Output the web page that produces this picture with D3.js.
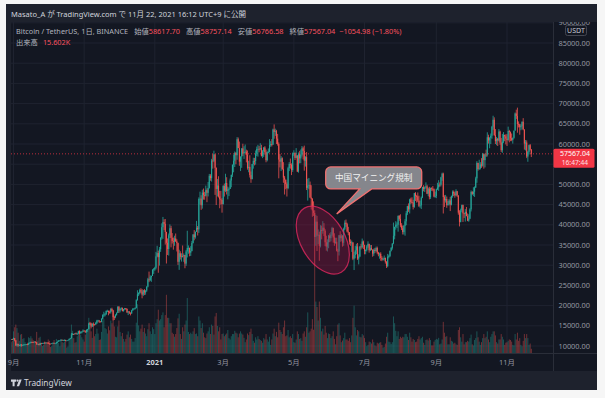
<!DOCTYPE html>
<html>
<head>
<meta charset="utf-8">
<script src="https://cdn.jsdelivr.net/npm/d3@7"></script>
<style>
  body { margin: 0; background: #f6f6f6; }
  svg { display: block; font-family: "Noto Sans", "Noto Sans CJK JP", sans-serif; }
</style>
</head>
<body>
<svg width="605" height="398"></svg>
<script>
// ---- data (BTCUSDT daily, prices in thousands USDT) ----
const startDate = new Date(2020, 7, 30);
const firstOpen = 11.5;

const closes = [
  11.70, 11.65,
  // 2020-09
  11.92, 11.39, 10.17, 10.46, 10.16, 10.26, 10.37, 10.13, 10.22, 10.34, 10.39, 10.44, 10.33, 10.68, 10.79,
  10.95, 10.94, 10.93, 11.08, 10.92, 10.42, 10.53, 10.24, 10.74, 10.69, 10.73, 10.77, 10.70, 10.84, 10.78,
  // 2020-10
  10.62, 10.57, 10.55, 10.67, 10.79, 10.60, 10.67, 10.92, 11.05, 11.30, 11.37, 11.54, 11.43, 11.43, 11.50,
  11.32, 11.37, 11.50, 11.75, 11.91, 12.82, 12.99, 12.93, 13.12, 13.03, 13.07, 13.65, 13.28, 13.46, 13.56, 13.80,
  // 2020-11
  13.76, 13.55, 14.03, 14.15, 15.59, 15.58, 14.83, 15.48, 15.33, 15.30, 15.70, 16.29, 16.33, 16.07, 15.96,
  16.72, 17.66, 17.80, 17.82, 18.68, 18.71, 18.42, 18.38, 19.16, 18.72, 17.15, 17.14, 17.72, 18.18, 19.70,
  // 2020-12
  18.77, 19.22, 19.42, 18.65, 19.15, 19.36, 19.17, 18.32, 18.55, 18.25, 18.03, 18.80, 19.17, 19.27, 19.44,
  21.35, 22.80, 23.11, 23.82, 23.47, 22.72, 23.81, 23.24, 23.73, 24.69, 26.49, 26.28, 27.03, 27.36, 28.88, 28.98,
  // 2021-01
  29.37, 32.19, 33.00, 31.99, 33.95, 36.77, 39.41, 40.67, 40.24, 38.24, 35.54, 34.01, 37.39, 39.15, 36.77,
  36.01, 35.80, 36.63, 35.89, 35.47, 30.85, 32.95, 32.08, 32.26, 32.25, 32.51, 30.40, 33.40, 34.27, 34.29, 33.11,
  // 2021-02
  33.52, 35.51, 37.62, 36.93, 38.29, 39.26, 38.87, 46.40, 46.48, 44.84, 47.97, 47.40, 47.19, 48.58,
  47.92, 49.13, 52.12, 51.55, 55.90, 55.84, 57.41, 54.10, 48.88, 49.71, 47.02, 46.30, 46.15, 45.14,
  // 2021-03
  49.59, 48.44, 50.35, 48.37, 48.75, 48.88, 50.97, 52.38, 54.88, 55.86, 57.80, 57.22, 61.18, 59.00, 55.63,
  56.90, 58.91, 57.65, 58.03, 58.10, 57.35, 54.08, 54.34, 52.30, 51.30, 55.03, 55.82, 55.78, 57.62, 58.78, 58.80,
  // 2021-04
  58.73, 58.97, 57.06, 58.20, 59.13, 57.99, 56.00, 57.99, 58.10, 59.77, 59.98, 59.84, 63.58, 62.96, 63.16,
  61.33, 60.01, 56.15, 55.63, 56.47, 53.80, 51.70, 51.19, 50.09, 49.07, 54.02, 55.03, 54.82, 53.56, 57.70,
  // 2021-05
  57.80, 56.58, 57.17, 53.20, 57.47, 56.43, 57.38, 58.93, 58.28, 55.86, 56.75, 49.15, 49.72, 49.88, 46.77,
  46.43, 43.54, 42.91, 37.00, 40.78, 37.30, 37.54, 34.77, 38.70, 38.48, 39.28, 38.53, 35.68, 34.62, 35.68, 37.34,
  // 2021-06
  36.69, 37.57, 39.19, 36.85, 35.52, 35.80, 33.58, 33.40, 37.39, 36.68, 37.33, 35.55, 39.02, 40.52, 40.16,
  38.34, 38.09, 35.82, 35.49, 35.60, 31.61, 32.51, 33.67, 34.65, 31.64, 32.16, 34.64, 34.45, 35.87, 35.04,
  // 2021-07
  33.52, 33.80, 34.66, 35.29, 33.69, 34.22, 33.86, 32.87, 33.81, 33.51, 34.26, 33.09, 32.73, 32.82, 31.78,
  31.40, 31.53, 31.78, 30.84, 29.79, 32.11, 32.29, 33.58, 34.28, 35.40, 37.27, 39.46, 40.02, 40.02, 42.21, 41.46,
  // 2021-08
  39.85, 39.15, 38.19, 39.74, 40.87, 42.84, 44.61, 43.82, 46.29, 45.59, 45.55, 44.43, 47.83, 47.10, 47.05,
  45.99, 44.70, 44.80, 46.72, 49.34, 48.87, 49.29, 49.51, 47.70, 48.96, 46.85, 49.07, 48.90, 48.81, 46.99, 47.13,
  // 2021-09
  48.83, 49.25, 49.94, 49.92, 51.76, 52.66, 46.86, 46.05, 46.40, 44.85, 45.17, 46.03, 44.96, 47.11, 48.14,
  47.76, 47.29, 48.30, 47.26, 43.01, 40.71, 43.57, 44.88, 42.84, 42.70, 43.21, 42.17, 41.03, 41.52, 43.82,
  // 2021-10
  48.14, 47.63, 48.20, 49.23, 51.49, 55.34, 53.80, 53.97, 54.95, 54.66, 57.49, 56.01, 57.37, 57.36, 61.67,
  60.88, 61.53, 62.04, 64.28, 66.00, 62.21, 60.69, 61.29, 60.86, 63.08, 60.33, 58.46, 60.59, 62.25, 61.88, 61.32,
  // 2021-11
  61.00, 63.22, 62.93, 61.44, 61.01, 61.53, 63.31, 67.55, 66.94, 64.95, 64.83, 64.16, 64.40, 65.50, 63.62,
  60.11, 60.37, 56.89, 58.06, 59.71, 58.62, 57.57
];

const highs = [
  11.70, 11.80,
  12.08, 11.95, 11.47, 10.63, 10.57, 10.35, 10.41, 10.43, 10.35, 10.50, 10.40, 10.48, 10.58, 10.80, 10.93,
  11.10, 11.05, 11.04, 11.18, 11.06, 10.99, 10.57, 10.55, 10.79, 10.77, 10.79, 10.80, 10.96, 10.86, 10.85,
  10.95, 10.66, 10.60, 10.70, 10.80, 10.80, 10.68, 10.96, 11.10, 11.49, 11.43, 11.72, 11.56, 11.55, 11.62,
  11.54, 11.40, 11.50, 11.82, 12.03, 13.22, 13.20, 13.03, 13.17, 13.35, 13.24, 13.79, 13.86, 13.64, 13.67, 14.10,
  13.90, 13.83, 14.07, 14.26, 15.75, 15.97, 15.77, 15.65, 15.83, 15.48, 15.97, 16.48, 16.48, 16.34, 16.14,
  16.88, 17.86, 18.48, 18.18, 18.80, 18.97, 18.75, 18.77, 19.42, 19.48, 18.92, 17.46, 17.88, 18.35, 19.86,
  19.89, 19.31, 19.60, 19.52, 19.18, 19.42, 19.41, 19.29, 18.64, 18.56, 18.29, 18.95, 19.41, 19.35, 19.57,
  21.56, 23.80, 23.29, 24.17, 24.30, 24.10, 23.84, 24.10, 23.80, 24.80, 26.87, 28.42, 27.50, 27.40, 28.99, 29.30,
  29.60, 33.30, 34.80, 33.60, 34.50, 36.94, 40.37, 41.95, 41.36, 41.43, 38.26, 36.63, 37.85, 40.10, 39.75,
  37.95, 36.85, 37.30, 37.85, 36.42, 35.60, 33.83, 33.46, 32.94, 34.88, 32.92, 32.56, 33.78, 38.53, 34.90, 34.33,
  34.72, 35.98, 37.66, 38.70, 38.32, 40.96, 39.70, 46.79, 48.20, 47.31, 48.68, 48.98, 48.15, 49.70,
  49.00, 50.60, 52.60, 52.53, 56.33, 57.50, 58.35, 57.50, 54.20, 51.35, 52.02, 48.40, 48.40, 46.60,
  49.80, 50.20, 52.64, 51.77, 49.45, 49.20, 51.45, 52.40, 54.90, 57.39, 58.15, 58.00, 61.70, 61.60, 60.60,
  56.90, 58.97, 60.07, 59.45, 59.88, 58.60, 58.40, 55.85, 57.20, 53.20, 55.07, 56.60, 56.57, 58.40, 59.37, 59.80,
  59.50, 60.20, 59.80, 58.50, 59.25, 59.47, 58.63, 58.20, 58.90, 61.20, 60.70, 61.20, 63.80, 64.85, 63.80,
  63.50, 62.50, 60.40, 57.50, 57.00, 56.70, 55.50, 52.10, 51.16, 50.50, 54.36, 55.50, 56.40, 55.20, 57.90,
  58.45, 57.90, 58.98, 57.20, 57.90, 58.30, 58.65, 59.50, 59.30, 59.60, 57.00, 58.00, 51.40, 51.60, 50.70,
  49.80, 46.60, 45.80, 43.60, 42.45, 42.20, 38.85, 38.30, 39.90, 39.80, 40.90, 40.40, 38.90, 37.30, 36.40, 37.50,
  37.90, 38.20, 39.50, 39.30, 37.90, 36.80, 36.80, 34.07, 37.50, 38.40, 37.70, 37.40, 39.30, 41.10, 41.30,
  40.50, 39.50, 38.20, 36.40, 36.10, 35.75, 33.30, 34.80, 35.30, 35.50, 32.70, 34.70, 35.30, 36.60, 36.10,
  35.04, 33.90, 35.00, 35.90, 35.30, 35.00, 35.00, 33.90, 34.10, 34.30, 34.60, 34.60, 33.30, 33.10, 33.20,
  32.25, 31.90, 32.40, 31.90, 31.00, 32.80, 32.60, 33.60, 34.50, 35.40, 40.55, 39.55, 40.90, 40.60, 42.30, 42.40,
  42.60, 40.40, 39.80, 39.95, 41.40, 43.40, 44.70, 45.30, 46.45, 46.70, 46.80, 46.20, 47.90, 48.10, 47.40,
  48.00, 47.20, 46.00, 47.00, 49.40, 49.80, 49.50, 50.50, 49.90, 49.20, 49.40, 49.20, 49.30, 49.60, 49.00, 48.20,
  48.95, 50.40, 51.05, 50.50, 51.90, 52.90, 52.90, 47.30, 47.40, 47.00, 45.90, 46.40, 46.90, 47.25, 48.50,
  48.50, 48.20, 48.80, 48.40, 47.30, 43.60, 44.00, 45.00, 45.00, 42.96, 43.90, 44.40, 42.80, 42.60, 44.10,
  48.50, 48.35, 49.30, 49.50, 51.90, 55.75, 55.30, 56.10, 55.50, 56.50, 57.80, 57.70, 57.60, 58.60, 62.90,
  62.30, 61.70, 62.60, 64.50, 67.00, 66.60, 63.70, 61.75, 61.50, 63.70, 63.30, 61.50, 62.50, 62.95, 62.30, 62.40,
  62.45, 64.30, 63.50, 63.10, 62.60, 61.60, 63.30, 67.80, 68.50, 69.00, 65.60, 65.00, 64.90, 65.60, 66.40,
  63.60, 61.00, 60.90, 58.30, 59.85, 60.00, 58.76
];

const lows = [
  11.50, 11.50,
  11.65, 11.16, 10.00, 9.88, 9.82, 9.99, 9.88, 9.85, 10.00, 10.20, 10.20, 10.30, 10.20, 10.25, 10.65,
  10.67, 10.75, 10.82, 10.90, 10.80, 10.30, 10.36, 10.14, 10.19, 10.56, 10.64, 10.62, 10.68, 10.65, 10.68,
  10.53, 10.37, 10.49, 10.53, 10.63, 10.53, 10.56, 10.53, 10.83, 11.05, 11.28, 11.21, 11.30, 11.30, 11.27,
  11.21, 11.30, 11.34, 11.42, 11.69, 11.90, 12.70, 12.72, 12.88, 12.90, 12.78, 13.05, 12.90, 12.99, 13.12, 13.42,
  13.62, 13.20, 13.29, 13.52, 14.09, 15.20, 14.36, 14.70, 14.80, 15.09, 15.27, 15.43, 15.96, 15.71, 15.86,
  15.87, 16.56, 17.20, 17.33, 17.74, 18.40, 17.60, 18.00, 18.02, 18.51, 16.33, 16.44, 16.88, 17.52, 18.18,
  18.19, 18.33, 18.87, 18.56, 18.50, 18.86, 18.90, 18.20, 17.65, 17.91, 17.57, 18.02, 18.72, 19.00, 19.05,
  19.29, 21.23, 22.35, 22.75, 23.06, 21.80, 22.35, 22.60, 22.70, 23.40, 24.50, 25.80, 26.10, 25.88, 27.32, 27.85,
  28.62, 28.95, 31.96, 28.13, 29.90, 33.30, 36.30, 36.50, 38.72, 35.11, 30.42, 32.53, 32.38, 36.70, 34.41,
  35.36, 33.85, 34.80, 35.80, 33.40, 30.07, 28.85, 31.39, 30.90, 31.91, 30.84, 29.24, 29.84, 31.92, 32.84, 32.20,
  32.30, 33.42, 35.36, 36.16, 36.57, 38.22, 37.35, 37.99, 45.00, 43.70, 44.00, 46.23, 46.20, 47.00,
  45.60, 47.02, 48.95, 50.90, 50.70, 53.90, 55.50, 47.40, 44.90, 47.00, 46.75, 44.10, 45.00, 43.00,
  45.00, 47.00, 48.10, 47.50, 46.30, 47.10, 48.88, 49.30, 51.85, 53.00, 54.30, 55.00, 56.10, 58.97, 54.60,
  53.30, 54.10, 57.00, 56.30, 57.80, 55.45, 53.65, 53.00, 51.70, 50.40, 51.27, 53.90, 54.70, 54.90, 57.00, 56.87,
  57.94, 58.45, 56.90, 56.50, 56.80, 57.37, 55.47, 55.70, 57.70, 57.90, 59.30, 59.40, 59.80, 61.30, 62.00,
  60.00, 59.60, 51.50, 54.20, 53.30, 53.60, 50.40, 47.50, 48.80, 47.00, 48.80, 53.30, 53.90, 52.30, 53.10,
  57.05, 56.04, 56.47, 53.05, 52.90, 55.20, 55.25, 56.90, 56.20, 53.40, 54.40, 48.60, 46.00, 48.80, 46.60,
  43.80, 42.00, 42.20, 30.00, 34.80, 33.50, 35.20, 31.10, 34.40, 36.40, 37.80, 37.20, 34.70, 33.60, 33.40, 34.20,
  35.70, 35.90, 37.20, 35.60, 34.80, 35.30, 33.40, 31.00, 32.40, 35.80, 35.90, 34.60, 34.80, 38.70, 39.50,
  38.10, 37.40, 35.10, 34.80, 33.30, 31.25, 28.80, 31.70, 32.70, 31.30, 30.20, 32.00, 33.90, 34.20, 34.00,
  32.70, 32.70, 33.40, 34.30, 33.10, 33.50, 33.70, 32.10, 32.30, 33.00, 33.30, 32.70, 32.20, 31.60, 31.10,
  31.00, 31.20, 31.10, 30.40, 29.30, 29.50, 31.70, 32.00, 33.40, 33.85, 35.20, 36.40, 38.80, 39.20, 38.30, 41.00,
  39.40, 38.70, 37.60, 37.60, 37.30, 39.90, 42.40, 43.20, 42.80, 45.10, 45.30, 43.80, 44.20, 45.90, 45.50,
  45.60, 44.40, 44.20, 43.90, 46.60, 48.30, 48.10, 49.00, 47.60, 47.10, 46.30, 46.40, 48.40, 48.30, 46.80, 46.70,
  46.60, 48.60, 48.40, 49.40, 49.50, 50.90, 42.80, 44.40, 45.50, 44.20, 44.80, 44.80, 43.40, 44.80, 46.70,
  47.10, 46.70, 47.10, 46.90, 42.50, 39.60, 40.60, 43.10, 40.70, 41.70, 40.80, 42.10, 40.90, 40.75, 41.40,
  43.30, 47.40, 47.10, 46.90, 49.10, 50.40, 53.40, 53.60, 53.70, 54.10, 54.40, 53.90, 54.20, 56.80, 56.90,
  60.10, 58.95, 60.00, 61.30, 63.50, 62.00, 60.00, 59.70, 59.50, 60.65, 59.80, 58.00, 57.80, 60.20, 60.70, 59.90,
  59.50, 60.80, 60.40, 60.70, 60.70, 60.10, 61.30, 63.30, 66.20, 62.80, 64.10, 62.30, 63.40, 63.60, 63.40,
  58.60, 58.40, 56.50, 55.60, 57.40, 58.40, 56.77
];

// volume, in the units of the pane (thousands)
const volumes = [
  40, 45,
  80, 95, 105, 92, 75, 45, 68, 70, 52, 55, 40, 32, 38, 58, 55, 62, 54, 47, 40, 43, 78, 46, 56, 60, 38, 26, 30, 43, 40, 38,
  50, 45, 22, 25, 38, 48, 36, 52, 47, 38, 25, 48, 40, 38, 42, 46, 20, 24, 48, 54, 105, 82, 55, 38, 40, 62, 76, 82, 68, 58, 50,
  42, 68, 82, 84, 130, 112, 80, 56, 98, 62, 70, 90, 72, 48, 50, 78, 120, 125, 92, 88, 72, 98, 84, 120, 110, 160, 98, 60, 58, 98,
  120, 78, 62, 74, 52, 42, 52, 68, 80, 58, 68, 52, 42, 42, 55, 112, 180, 102, 80, 90, 105, 78, 92, 72, 62, 88, 110, 80, 70, 95, 88,
  70, 110, 125, 160, 120, 125, 140, 150, 95, 140, 215, 130, 130, 110, 110, 75, 70, 60, 70, 92, 128, 145, 70, 52, 95, 80, 105, 120, 203, 78, 70,
  75, 70, 80, 92, 70, 72, 62, 135, 120, 92, 110, 75, 58, 55, 72, 80, 95, 70, 105, 100, 68, 135, 148, 100, 80, 95, 50, 70,
  72, 62, 68, 72, 85, 55, 50, 62, 70, 70, 82, 75, 72, 58, 72, 80, 72, 68, 56, 40, 50, 72, 66, 78, 90, 70, 45, 38, 58, 50, 62,
  52, 48, 45, 38, 55, 50, 70, 50, 42, 60, 30, 50, 72, 90, 62, 78, 58, 112, 85, 78, 70, 95, 120, 62, 65, 85, 58, 62, 55, 70,
  40, 38, 50, 80, 70, 52, 55, 45, 72, 80, 60, 95, 150, 75, 80, 90, 125, 86, 325, 190, 170, 120, 190, 130, 80, 90, 68, 100, 75, 55, 72,
  70, 55, 62, 80, 52, 32, 62, 105, 110, 65, 40, 46, 55, 75, 50, 50, 45, 55, 40, 65, 130, 175, 95, 65, 85, 80, 60, 58, 70, 65,
  55, 40, 25, 30, 42, 40, 35, 50, 40, 28, 25, 38, 35, 38, 40, 30, 20, 22, 35, 60, 75, 42, 40, 33, 40, 135, 110, 82, 62, 80, 52,
  60, 55, 60, 58, 70, 70, 60, 48, 75, 58, 42, 52, 48, 40, 42, 52, 62, 50, 55, 60, 38, 30, 48, 50, 46, 55, 48, 28, 28, 42, 48,
  52, 50, 56, 32, 35, 50, 115, 75, 60, 62, 32, 32, 58, 45, 42, 35, 38, 32, 30, 85, 95, 58, 42, 70, 32, 40, 40, 45, 42, 55,
  68, 32, 28, 48, 55, 80, 58, 42, 30, 40, 55, 70, 55, 60, 80, 50, 40, 60, 70, 80, 80, 65, 40, 35, 50, 50, 70, 60, 50, 30, 38,
  40, 45, 50, 48, 42, 30, 28, 70, 50, 75, 45, 55, 30, 25, 45, 70, 55, 70, 55, 30, 35, 15.6
];

const priceTicks = [10000, 15000, 20000, 25000, 30000, 35000, 40000, 45000, 50000,
                    55000, 60000, 65000, 70000, 75000, 80000, 85000, 90000];
const timeTickDates = ['2020-09-01', '2020-11-01', '2021-01-01', '2021-03-01',
                       '2021-05-01', '2021-07-01', '2021-09-01', '2021-11-01'];
const timeTickLabels = ['9月', '11月', '2021', '3月', '5月', '7月', '9月', '11月'];

const lastPrice = 57567.04;
const lastTime = '16:47:44';
const titleText = 'Masato_A が TradingView.com で 11月 22, 2021 16:12 UTC+9 に公開';
const legendItems = [
  ['始値', '58617.70'], ['高値', '58757.14'], ['安値', '56766.58'], ['終値', '57567.04']
];
const changeText = '−1054.98 (−1.80%)';
const volumeLabel = ['出来高', '15.602K'];

// annotation anchored to data coordinates
const note = { text: '中国マイニング規制', tipDate: '2021-06-07', tipPrice: 42700 };
const ring = { date: '2021-05-26', price: 36200 };

// ---- layout ----
const svg = d3.select('svg');
const pane = { left: 11, top: 22, right: 553, bottom: 353 };
const axisBottom = 371;
const upColor = '#26a69a', downColor = '#ef5350';
const parse = d3.timeParse('%Y-%m-%d');

const x = d3.scaleTime()
  .domain([new Date(2020, 8, 1), new Date(2021, 10, 1)])
  .range([13.5, 507]);
const y = d3.scaleLinear().domain([10000, 85000]).range([346, 43]);
const yVol = d3.scaleLinear().domain([0, 325]).range([pane.bottom, 265]);

const candles = closes.map((c, i) => ({
  date: d3.timeDay.offset(startDate, i),
  open: (i ? closes[i - 1] : firstOpen) * 1000,
  close: c * 1000,
  high: highs[i] * 1000,
  low: lows[i] * 1000,
  volume: volumes[i]
}));

// backgrounds
svg.append('rect').attr('x', 6).attr('y', 4).attr('width', 591).attr('height', 386).attr('fill', '#1e222d');
svg.append('rect').attr('x', pane.left).attr('y', pane.top)
  .attr('width', 597 - pane.left).attr('height', axisBottom - pane.top).attr('fill', '#131722');

svg.append('defs').append('clipPath').attr('id', 'paneClip')
  .append('rect').attr('x', pane.left).attr('y', pane.top)
  .attr('width', pane.right - pane.left).attr('height', pane.bottom - pane.top);

// grid
const grid = svg.append('g').attr('clip-path', 'url(#paneClip)');
grid.selectAll('line.h').data(priceTicks).join('line')
  .attr('x1', pane.left).attr('x2', pane.right)
  .attr('y1', d => y(d)).attr('y2', d => y(d))
  .attr('stroke', '#1f2330').attr('stroke-width', 1);
grid.selectAll('line.v').data(timeTickDates).join('line')
  .attr('x1', d => x(parse(d))).attr('x2', d => x(parse(d)))
  .attr('y1', pane.top).attr('y2', pane.bottom)
  .attr('stroke', '#1f2330').attr('stroke-width', 1);

// volume
const plot = svg.append('g').attr('clip-path', 'url(#paneClip)');
plot.append('g').selectAll('rect').data(candles).join('rect')
  .attr('x', d => x(d.date) - 0.5)
  .attr('width', 1)
  .attr('y', d => yVol(d.volume))
  .attr('height', d => pane.bottom - yVol(d.volume))
  .attr('fill', d => d.close >= d.open ? 'rgba(38,166,154,0.42)' : 'rgba(239,83,80,0.42)');

// last price line
plot.append('line')
  .attr('x1', pane.left).attr('x2', pane.right)
  .attr('y1', y(lastPrice)).attr('y2', y(lastPrice))
  .attr('stroke', '#f23645').attr('stroke-opacity', 0.75)
  .attr('stroke-dasharray', '1,2');

// candles
const cg = plot.append('g');
cg.selectAll('line').data(candles).join('line')
  .attr('x1', d => x(d.date)).attr('x2', d => x(d.date))
  .attr('y1', d => y(d.high)).attr('y2', d => y(d.low))
  .attr('stroke', d => d.close >= d.open ? upColor : downColor)
  .attr('stroke-width', 0.8);
cg.selectAll('rect').data(candles).join('rect')
  .attr('x', d => x(d.date) - 0.55)
  .attr('width', 1.1)
  .attr('y', d => y(Math.max(d.open, d.close)))
  .attr('height', d => Math.max(0.8, Math.abs(y(d.open) - y(d.close))))
  .attr('fill', d => d.close >= d.open ? upColor : downColor);

// annotation: ellipse
plot.append('ellipse')
  .attr('transform', `translate(${x(parse(ring.date))},${y(ring.price)}) rotate(60)`)
  .attr('rx', 37).attr('ry', 22)
  .attr('fill', 'rgba(140,20,65,0.4)')
  .attr('stroke', 'rgba(225,40,95,0.8)').attr('stroke-width', 1.2);

// annotation: callout
const tx = x(parse(note.tipDate)), ty = y(note.tipPrice);
const bx0 = tx - 11, bx1 = tx + 85, by0 = ty - 47, by1 = ty - 25, r = 5;
const calloutPath = d3.path();
calloutPath.moveTo(bx0 + r, by0);
calloutPath.lineTo(bx1 - r, by0);
calloutPath.arcTo(bx1, by0, bx1, by0 + r, r);
calloutPath.lineTo(bx1, by1 - r);
calloutPath.arcTo(bx1, by1, bx1 - r, by1, r);
calloutPath.lineTo(tx + 35, by1);
calloutPath.lineTo(tx, ty);
calloutPath.lineTo(tx + 23, by1);
calloutPath.lineTo(bx0 + r, by1);
calloutPath.arcTo(bx0, by1, bx0, by1 - r, r);
calloutPath.lineTo(bx0, by0 + r);
calloutPath.arcTo(bx0, by0, bx0 + r, by0, r);
calloutPath.closePath();
svg.append('path').attr('d', calloutPath.toString())
  .attr('fill', '#85868c').attr('stroke', '#f07070').attr('stroke-width', 1.3);
svg.append('text')
  .attr('x', (bx0 + bx1) / 2).attr('y', (by0 + by1) / 2)
  .attr('dy', '0.36em').attr('text-anchor', 'middle')
  .attr('font-family', '"Noto Sans CJK JP", sans-serif')
  .attr('font-size', 8.6).attr('fill', '#f2f2f2')
  .text(note.text);

// axes separators
svg.append('line').attr('x1', pane.right + 0.5).attr('x2', pane.right + 0.5)
  .attr('y1', pane.top).attr('y2', axisBottom).attr('stroke', '#2a2e39');
svg.append('line').attr('x1', pane.left).attr('x2', 597)
  .attr('y1', pane.bottom + 0.5).attr('y2', pane.bottom + 0.5).attr('stroke', '#2a2e39');

// price axis labels (ones hidden under the last-price badge are skipped)
const ly = y(lastPrice);
const badgeTop = ly - 5, badgeBottom = ly + 14;
svg.append('clipPath').attr('id', 'axisClip').append('rect')
  .attr('x', pane.right).attr('y', pane.top).attr('width', 44).attr('height', pane.bottom - pane.top);
const ax = svg.append('g').attr('clip-path', 'url(#axisClip)');
ax.selectAll('text')
  .data(priceTicks.filter(d => y(d) < badgeTop - 3 || y(d) > badgeBottom + 3))
  .join('text')
  .attr('x', 590).attr('y', d => y(d)).attr('dy', '0.35em')
  .attr('text-anchor', 'end').attr('font-size', 7.4).attr('fill', '#9598a1')
  .text(d => d3.format('.2f')(d));

// currency badge
ax.append('rect').attr('x', 565.5).attr('y', 25.5).attr('width', 21).attr('height', 10).attr('rx', 2)
  .attr('fill', '#131722').attr('stroke', '#434651');
ax.append('text').attr('x', 576).attr('y', 30.6).attr('dy', '0.35em').attr('text-anchor', 'middle')
  .attr('font-size', 7).attr('fill', '#c5c8d0').text('USDT');

// last price badge
svg.append('rect').attr('x', pane.right + 0.5).attr('y', badgeTop).attr('width', 41).attr('height', badgeBottom - badgeTop)
  .attr('rx', 1.5).attr('fill', '#f23645');
svg.append('text').attr('x', 590).attr('y', ly - 0.2).attr('dy', '0.35em').attr('text-anchor', 'end')
  .attr('font-size', 7).attr('fill', '#ffffff').text(d3.format('.2f')(lastPrice));
svg.append('text').attr('x', 588).attr('y', ly + 9.2).attr('dy', '0.35em').attr('text-anchor', 'end')
  .attr('font-size', 6.6).attr('fill', '#ffe0e2').text(lastTime);

// time axis labels
svg.append('g').selectAll('text').data(timeTickDates).join('text')
  .attr('x', d => x(parse(d))).attr('y', 362.5).attr('dy', '0.35em')
  .attr('text-anchor', 'middle').attr('font-size', 7.4)
  .attr('font-weight', (d, i) => timeTickLabels[i] === '2021' ? 700 : 400)
  .attr('fill', (d, i) => timeTickLabels[i] === '2021' ? '#d1d4dc' : '#9598a1')
  .text((d, i) => timeTickLabels[i]);

// header
svg.append('text').attr('x', 11).attr('y', 14).attr('dy', '0.35em')
  .attr('font-size', 7.5).attr('fill', '#d1d4dc').text(titleText);

const legend = svg.append('text').attr('x', 16).attr('y', 31.7).attr('dy', '0.35em')
  .attr('font-size', 7.3).attr('fill', '#b2b5be');
legend.append('tspan').text('Bitcoin / TetherUS, 1日, BINANCE');
legendItems.forEach(([k, v]) => {
  legend.append('tspan').attr('dx', 6).text(k);
  legend.append('tspan').attr('fill', '#f7525f').text(v);
});
legend.append('tspan').attr('dx', 4).attr('fill', '#f7525f').text(changeText);

const vlegend = svg.append('text').attr('x', 16).attr('y', 42.3).attr('dy', '0.35em')
  .attr('font-size', 7.3).attr('fill', '#b2b5be');
vlegend.append('tspan').text(volumeLabel[0]);
vlegend.append('tspan').attr('dx', 5).attr('fill', '#f7525f').text(volumeLabel[1]);

// footer logo
const logo = svg.append('g').attr('fill', '#d1d4dc');
logo.append('path').attr('d', 'M11,379.5h5.2v2.2h-1.6v4.6h-2v-4.6h-1.6z');
logo.append('circle').attr('cx', 17.6).attr('cy', 380.6).attr('r', 1.1);
logo.append('path').attr('d', 'M19.3,379.5h2.4l-2.6,6.8h-2.4z');
svg.append('text').attr('x', 24).attr('y', 382.8).attr('dy', '0.35em')
  .attr('font-size', 8.3).attr('fill', '#d1d4dc').text('TradingView');

// sanity check on array lengths
if (!(highs.length === closes.length && lows.length === closes.length && volumes.length === closes.length)) {
  svg.append('text').attr('x', 100).attr('y', 200).attr('fill', 'yellow').attr('font-size', 12)
    .text(`len mismatch c${closes.length} h${highs.length} l${lows.length} v${volumes.length}`);
}
</script>
</body>
</html>
